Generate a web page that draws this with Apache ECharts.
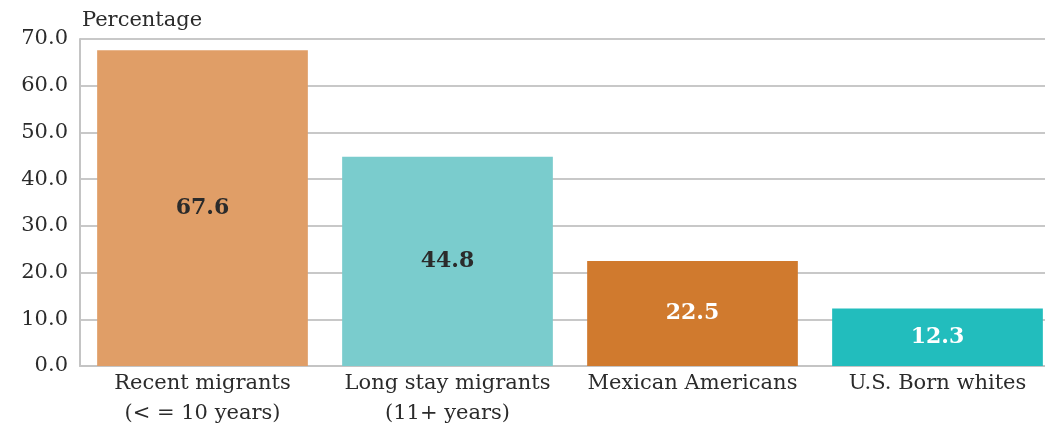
<!DOCTYPE html>
<html>
<head>
<meta charset="utf-8">
<style>
  html, body { margin: 0; padding: 0; background: #ffffff; overflow: hidden; }
  /* the plot area runs a little past the right edge of the window */
  #chart { width: 1060px; height: 432px; }
</style>
<script src="https://cdn.jsdelivr.net/npm/echarts@6/dist/echarts.min.js"></script>
</head>
<body>
<div id="chart"></div>
<script>
// Share of each group, in percent
const categories = ['Recent migrants\n(< = 10 years)', 'Long stay migrants\n(11+ years)', 'Mexican Americans', 'U.S. Born whites'];
const values = [67.6, 44.8, 22.5, 12.3];
const barColors = ['#E09E67', '#7ACCCD', '#D07A2E', '#22BDBD'];
const labelColors = ['#2b2b2b', '#2b2b2b', '#ffffff', '#ffffff'];

const serif = '"DejaVu Serif", "Liberation Serif", serif';

const chart = echarts.init(document.getElementById('chart'));
chart.setOption({
  animation: false,
  grid: { left: 80, right: 0, top: 39, bottom: 66 },
  xAxis: {
    type: 'category',
    data: categories,
    axisLine: { show: true, lineStyle: { color: '#c4c4c4', width: 2 } },
    axisTick: { show: false },
    axisLabel: { interval: 0, color: '#2b2b2b', fontFamily: serif, fontSize: 21, lineHeight: 30, margin: 3 }
  },
  yAxis: {
    type: 'value',
    min: 0,
    max: 70,
    interval: 10,
    name: 'Percentage',
    nameLocation: 'end',
    nameGap: 8,
    nameTextStyle: { color: '#2b2b2b', fontFamily: serif, fontSize: 21, align: 'left', padding: [0, 0, 0, 2] },
    axisLine: { show: true, lineStyle: { color: '#c4c4c4', width: 2 } },
    axisTick: { show: false },
    splitLine: { lineStyle: { color: '#c8c8c8', width: 2 } },
    axisLabel: {
      color: '#2b2b2b', fontFamily: serif, fontSize: 21, margin: 12,
      formatter: v => v.toFixed(1)
    }
  },
  series: [{
    type: 'bar',
    barCategoryGap: '14%',
    data: values.map((v, i) => ({
      value: v,
      itemStyle: { color: barColors[i] },
      label: { color: labelColors[i] }
    })),
    label: {
      show: true,
      position: 'inside',
      fontFamily: serif,
      fontSize: 22,
      fontWeight: 'bold',
      formatter: p => p.value.toFixed(1)
    }
  }]
});
</script>
</body>
</html>
